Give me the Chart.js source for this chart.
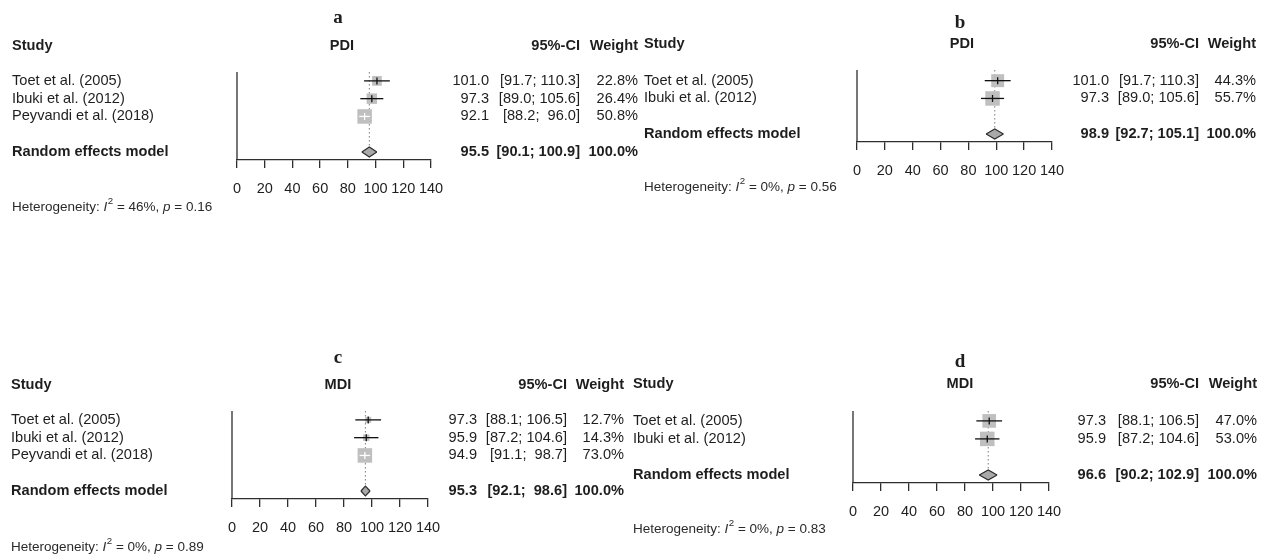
<!DOCTYPE html>
<html><head><meta charset="utf-8">
<script src="https://cdn.jsdelivr.net/npm/chart.js@4.4.0/dist/chart.umd.min.js"></script>
<style>
html,body{margin:0;padding:0;background:#fff;}
#wrap{position:relative;width:1275px;height:557px;overflow:hidden;background:#fff;}
#wrap canvas{position:absolute;left:0;top:0;}
</style></head><body><div id="wrap"></div>
<script>
// ---------------- DATA ----------------
const xTicks = [0, 20, 40, 60, 80, 100, 120, 140];

// panel a : PDI, three studies
const namesA  = ["Toet et al. (2005)", "Ibuki et al. (2012)", "Peyvandi et al. (2018)"];
const estA    = [101.0, 97.3, 92.1];
const lowA    = [91.7, 89.0, 88.2];
const highA   = [110.3, 105.6, 96.0];
const weightA = [22.8, 26.4, 50.8];
const pooledA = [95.5, 90.1, 100.9];
const hetA    = ["46%", "0.16"];

// panel b : PDI, two studies
const namesB  = ["Toet et al. (2005)", "Ibuki et al. (2012)"];
const estB    = [101.0, 97.3];
const lowB    = [91.7, 89.0];
const highB   = [110.3, 105.6];
const weightB = [44.3, 55.7];
const pooledB = [98.9, 92.7, 105.1];
const hetB    = ["0%", "0.56"];

// panel c : MDI, three studies
const namesC  = ["Toet et al. (2005)", "Ibuki et al. (2012)", "Peyvandi et al. (2018)"];
const estC    = [97.3, 95.9, 94.9];
const lowC    = [88.1, 87.2, 91.1];
const highC   = [106.5, 104.6, 98.7];
const weightC = [12.7, 14.3, 73.0];
const pooledC = [95.3, 92.1, 98.6];
const hetC    = ["0%", "0.89"];

// panel d : MDI, two studies
const namesD  = ["Toet et al. (2005)", "Ibuki et al. (2012)"];
const estD    = [97.3, 95.9];
const lowD    = [88.1, 87.2];
const highD   = [106.5, 104.6];
const weightD = [47.0, 53.0];
const pooledD = [96.6, 90.2, 102.9];
const hetD    = ["0%", "0.83"];

const pooledLabel = "Random effects model";
// --------------------------------------

const FONT = '"Liberation Sans", Arial, Helvetica, sans-serif';
const SERIF = '"Liberation Serif", "Times New Roman", serif';
const FS = 14.6;
const TXT = '#1e1e1e';
const LINE = '#2e2e2e';
const SQ = 14.5;      // side of the largest square (px)
const DH = 0.28;      // diamond half height (rows)

const layouts = {
  a: { label:[338,23], hdrY:46,  studyX:12,  outX:342, estX:489,  ciX:580,  wX:638,  axisL:237, axisR:431,  vTop:72,  axisY:160, yMin:0.5,  het:[12,207] },
  b: { label:[960,28], hdrY:44,  studyX:644, outX:962, estX:1109, ciX:1199, wX:1256, axisL:857, axisR:1052, vTop:70,  axisY:142, yMin:0.4,  het:[644,187] },
  c: { label:[338,363],hdrY:385, studyX:11,  outX:338, estX:477,  ciX:567,  wX:624,  axisL:232, axisR:428,  vTop:411, axisY:499, yMin:0.5,  het:[11,547] },
  d: { label:[960,367],hdrY:384, studyX:633, outX:960, estX:1106, ciX:1199, wX:1257, axisL:853, axisR:1049, vTop:411, axisY:483, yMin:0.45, het:[633,529] }
};

const panels = [
  { key:'a', outcome:'PDI', names:namesA, est:estA, low:lowA, high:highA, weight:weightA, pooled:pooledA, het:hetA },
  { key:'b', outcome:'PDI', names:namesB, est:estB, low:lowB, high:highB, weight:weightB, pooled:pooledB, het:hetB },
  { key:'c', outcome:'MDI', names:namesC, est:estC, low:lowC, high:highC, weight:weightC, pooled:pooledC, het:hetC },
  { key:'d', outcome:'MDI', names:namesD, est:estD, low:lowD, high:highD, weight:weightD, pooled:pooledD, het:hetD }
];

function f1(v){ return v.toFixed(1); }
function ciStr(lo, hi, wide){
  const pad = (wide && hi < 100) ? '  ' : ' ';
  return '[' + f1(lo) + ';' + pad + f1(hi) + ']';
}

function textPlugin(P, L){
  return {
    id: 'forestText_' + P.key,
    afterDraw(chart){
      const ctx = chart.ctx, ys = chart.scales.y;
      const n = P.names.length, pr = n + 2;
      const wide = Math.max(...P.high, P.pooled[2]) >= 100;
      ctx.save();
      ctx.fillStyle = TXT;
      // panel letter
      ctx.font = 'bold 19px ' + SERIF;
      ctx.textAlign = 'center'; ctx.textBaseline = 'alphabetic';
      ctx.fillText(P.key, L.label[0], L.label[1]);
      ctx.textBaseline = 'middle';
      // headers
      ctx.font = 'bold ' + FS + 'px ' + FONT;
      ctx.textAlign = 'left';  ctx.fillText('Study', L.studyX, L.hdrY);
      ctx.textAlign = 'center'; ctx.fillText(P.outcome, L.outX, L.hdrY);
      ctx.textAlign = 'right'; ctx.fillText('95%-CI', L.ciX, L.hdrY);
      ctx.fillText('Weight', L.wX, L.hdrY);
      // study rows
      ctx.font = FS + 'px ' + FONT;
      P.names.forEach((nm, i) => {
        const y = ys.getPixelForValue(i + 1);
        ctx.textAlign = 'left';  ctx.fillText(nm, L.studyX, y);
        ctx.textAlign = 'right';
        ctx.fillText(f1(P.est[i]), L.estX, y);
        ctx.fillText(ciStr(P.low[i], P.high[i], wide), L.ciX, y);
        ctx.fillText(f1(P.weight[i]) + '%', L.wX, y);
      });
      // pooled row
      const yp = ys.getPixelForValue(pr);
      ctx.font = 'bold ' + FS + 'px ' + FONT;
      ctx.textAlign = 'left';  ctx.fillText(pooledLabel, L.studyX, yp);
      ctx.textAlign = 'right';
      ctx.fillText(f1(P.pooled[0]), L.estX, yp);
      ctx.fillText(ciStr(P.pooled[1], P.pooled[2], wide), L.ciX, yp);
      ctx.fillText('100.0%', L.wX, yp);
      // heterogeneity
      const hf = 13.5;
      let cx = L.het[0]; const hy = L.het[1];
      ctx.textAlign = 'left'; ctx.fillStyle = '#2a2a2a';
      const seg = (t, font, dy) => { ctx.font = font; ctx.fillText(t, cx, hy + (dy||0)); cx += ctx.measureText(t).width; };
      seg('Heterogeneity: ', hf + 'px ' + FONT);
      seg('I', 'italic ' + hf + 'px ' + FONT);
      cx += 0.5;
      seg('2', (hf*0.72).toFixed(1) + 'px ' + FONT, -hf*0.42);
      seg(' = ' + P.het[0] + ', ', hf + 'px ' + FONT);
      seg('p', 'italic ' + hf + 'px ' + FONT);
      seg(' = ' + P.het[1], hf + 'px ' + FONT);
      ctx.restore();
    }
  };
}

function buildPanel(P){
  const L = layouts[P.key];
  const n = P.names.length, pr = n + 2;
  const yMin = L.yMin, yMax = pr + 0.45;
  const maxW = Math.max(...P.weight);
  const side = w => SQ * Math.sqrt(w / maxW);
  const rows = P.names.map((_, i) => i + 1);
  const inside = (chart, i) => {
    const xs = chart.scales.x;
    if (!xs) return false;
    return (xs.getPixelForValue(P.high[i]) - xs.getPixelForValue(P.low[i])) <= side(P.weight[i]);
  };

  const ds = [];
  // reference line at 0
  ds.push({ data:[{x:0,y:yMin},{x:0,y:yMax}], borderColor:LINE, borderWidth:1.3, pointRadius:0, order:10, clip:false });
  // dotted line at pooled estimate
  ds.push({ data:[{x:P.pooled[0],y:yMin},{x:P.pooled[0],y:pr-DH}], borderColor:'#888888', borderWidth:1.1, borderDash:[1.5,2.5], pointRadius:0, order:9, clip:false });
  // squares (area proportional to weight)
  ds.push({ data: rows.map((r,i)=>({x:P.est[i], y:r})), showLine:false, pointStyle:'rect',
            pointRadius: P.weight.map(w => side(w)/Math.SQRT2), pointHoverRadius: P.weight.map(w => side(w)/Math.SQRT2),
            pointBackgroundColor:'#bfbfbf', pointBorderColor:'#bfbfbf', pointBorderWidth:0, order:8, clip:false });
  // confidence intervals
  rows.forEach((r,i)=>{
    ds.push({ data:[{x:P.low[i],y:r},{x:P.high[i],y:r}], pointRadius:0, borderWidth:1.3, order:6, clip:false,
              borderColor: c => inside(c.chart, i) ? '#ffffff' : '#111111' });
  });
  // estimate marks
  ds.push({ data: rows.map((r,i)=>({x:P.est[i], y:r})), showLine:false, pointStyle:'line', pointRotation:90,
            pointRadius:3.5, pointBorderWidth:1.3, order:5, clip:false,
            pointBorderColor: c => inside(c.chart, c.dataIndex) ? '#ffffff' : '#111111' });
  // diamond (lower half filled up to upper half)
  const idxUp = ds.length;
  ds.push({ data:[{x:P.pooled[1],y:pr},{x:P.pooled[0],y:pr-DH},{x:P.pooled[2],y:pr}], borderColor:LINE, borderWidth:1.2, pointRadius:0, fill:false, order:2, clip:false });
  ds.push({ data:[{x:P.pooled[1],y:pr},{x:P.pooled[0],y:pr+DH},{x:P.pooled[2],y:pr}], borderColor:LINE, borderWidth:1.2, pointRadius:0, fill:idxUp, backgroundColor:'#a9a9a9', order:3, clip:false });

  const cv = document.createElement('canvas');
  cv.width = 1275; cv.height = 557;
  document.getElementById('wrap').appendChild(cv);
  let pad = { left:L.axisL, right:1275 - L.axisR, top:L.vTop, bottom: 557 - L.axisY - 42 };

  const chart = new Chart(cv, {
    type:'line',
    data:{ datasets: ds },
    options:{
      responsive:false, animation:false, devicePixelRatio:1,
      layout:{ padding: pad },
      plugins:{ legend:{display:false}, tooltip:{enabled:false} },
      elements:{ line:{ tension:0 } },
      scales:{
        x:{ type:'linear', min:0, max:140,
            afterBuildTicks: s => { s.ticks = xTicks.map(v => ({value:v})); },
            grid:{ display:true, drawOnChartArea:false, drawTicks:true, tickLength:8, color:LINE, lineWidth:1.3 },
            border:{ display:true, color:LINE, width:1.3 },
            ticks:{ color:TXT, font:{ family:FONT, size:14.5 }, padding:12, maxRotation:0, autoSkip:false, callback: v => String(v) } },
        y:{ type:'linear', display:false, reverse:true, min:yMin, max:yMax }
      }
    },
    plugins:[ textPlugin(P, L) ]
  });
  const dy = chart.chartArea.bottom - L.axisY;
  if (Math.abs(dy) > 0.05) {
    pad = Object.assign({}, pad, { bottom: pad.bottom + dy });
    chart.options.layout.padding = pad;
    chart.update();
  }
  return chart;
}

panels.forEach(buildPanel);
</script>
</body></html>
